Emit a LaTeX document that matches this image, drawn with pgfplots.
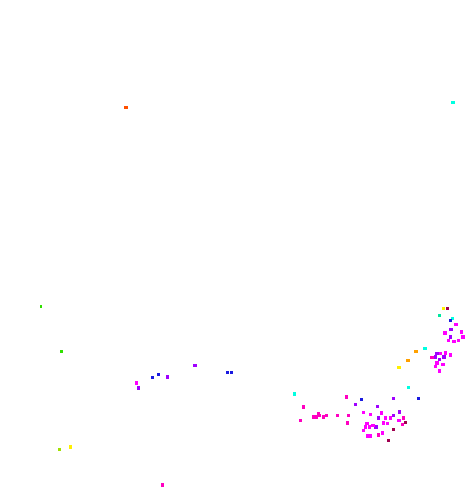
\documentclass[border=0pt]{standalone}
\usepackage{pgfplots}
\pgfplotsset{compat=1.18}
\definecolor{cOR}{HTML}{FF5000}
\definecolor{cCY}{HTML}{00FFE0}
\definecolor{cGR}{HTML}{30E000}
\definecolor{cYG}{HTML}{A0E000}
\definecolor{cYE}{HTML}{FFF000}
\definecolor{cOA}{HTML}{FFA000}
\definecolor{cBL}{HTML}{1A1AE0}
\definecolor{cPU}{HTML}{A000FF}
\definecolor{cMA}{HTML}{FF00FF}
\definecolor{cPM}{HTML}{FF00C0}
\definecolor{cDR}{HTML}{A00050}
\definecolor{cTE}{HTML}{00E8A0}
\begin{document}
\begin{tikzpicture}
\begin{axis}[hide axis, scale only axis, width=465bp, height=488bp,
  xmin=0, xmax=465, ymin=0, ymax=488, y dir=reverse, clip=false]
\addplot[only marks, mark=square*, mark size=1.1, color=cOR] coordinates {(125.7,107.3)};
\addplot[only marks, mark=square*, mark size=1.1, color=cCY] coordinates {
(452.7,102.3) (452,318.3) (424.7,348.3) (408.3,387) (294,393.7)};
\addplot[only marks, mark=square*, mark size=1.0, color=cTE] coordinates {(439.3,315)};
\addplot[only marks, mark=square*, mark size=1.0, color=cGR] coordinates {(40.7,306.3) (61.3,350.7)};
\addplot[only marks, mark=square*, mark size=1.0, color=cYG] coordinates {(59.3,448.7)};
\addplot[only marks, mark=square*, mark size=1.1, color=cYE] coordinates {(70,446.7) (443.3,308.3) (398.7,367)};
\addplot[only marks, mark=square*, mark size=1.1, color=cOA] coordinates {(415.7,351) (407.7,360)};
\addplot[only marks, mark=square*, mark size=1.0, color=cBL] coordinates {
(450.3,320) (361.3,398.7) (418.3,397.7) (152,376.7) (158.3,374.3) (227,371.7) (231,371.7)};
\addplot[only marks, mark=square*, mark size=1.1, color=cPU] coordinates {
(450.7,329.3) (450,336.7) (436.7,353.3) (435,356.7) (439,359.3) (443.7,356.7)
(393.3,398.3) (355,404) (377.3,406.3) (399,411.7) (378,417.7) (393.3,415)
(138,387.7) (167,376.7) (194.7,365.3) (375.7,426.7)};
\addplot[only marks, mark=square*, mark size=1.1, color=cMA] coordinates {
(455.7,324.3) (444.7,332.7) (461,331.7) (462.7,336.7) (448.3,340) (453.7,341) (458.3,340)
(440,353.3) (445,352.7) (450.3,354.7) (436.7,362.7) (442.7,364) (435.3,366) (439.3,370.7)
(363.3,412) (370,414) (381.3,412.7) (385,417.7) (390.3,417.7) (398.7,420)
(383.3,422.7) (387.3,423.3) (366.7,423.3) (365,426.7) (372.7,425) (369.3,426.7)
(363.3,430) (382.3,432.7) (367.3,435.7) (370,435.7) (136.3,382.7)};
\addplot[only marks, mark=square*, mark size=1.1, color=cPM] coordinates {
(431.7,357.3) (346.3,396.7) (303.3,406.7) (318,413) (319.3,415) (326,415) (337,415) (348,415)
(313.7,416.7) (316.3,416.7) (323.3,416.7) (403,417.7) (300,420) (402.3,424) (347.3,422.7)
(378,434.7) (162,484.7)};
\addplot[only marks, mark=square*, mark size=1.0, color=cDR] coordinates {
(447.3,308.3) (405.3,421.7) (393.3,428.7) (388,440)};
\end{axis}
\path (current axis.south west) rectangle (current axis.north east);
\end{tikzpicture}
\end{document}
